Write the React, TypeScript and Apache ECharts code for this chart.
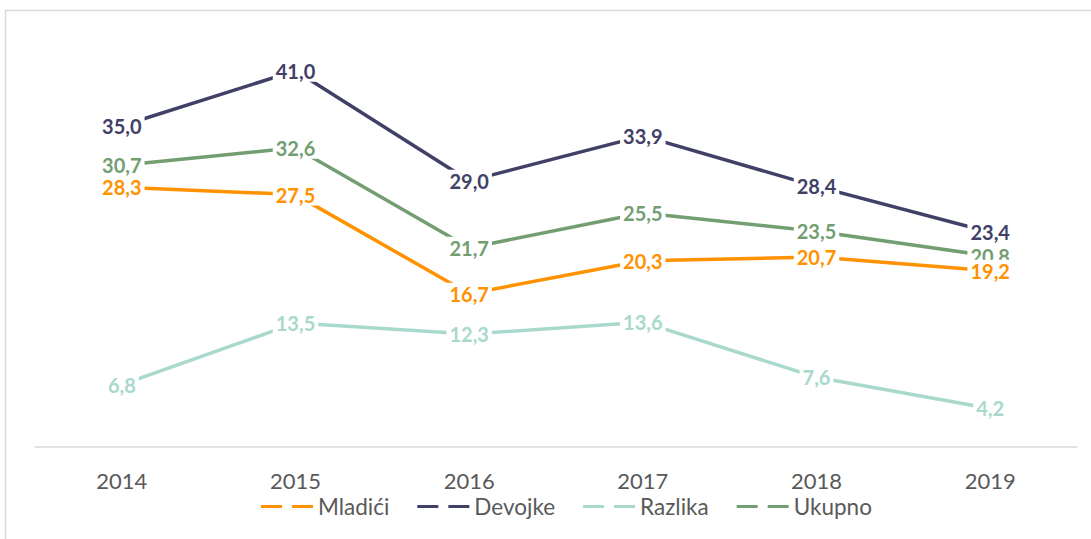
import React, { useEffect, useRef } from "react";
import * as echarts from "echarts";

const years = ["2014", "2015", "2016", "2017", "2018", "2019"];
const mladici = [28.3, 27.5, 16.7, 20.3, 20.7, 19.2];
const devojke = [35.0, 41.0, 29.0, 33.9, 28.4, 23.4];
const razlika = [6.8, 13.5, 12.3, 13.6, 7.6, 4.2];
const ukupno = [30.7, 32.6, 21.7, 25.5, 23.5, 20.8];

const seriesDefs = [
  { name: "Mladići", data: mladici, color: "#FF9200", z: 5 },
  { name: "Devojke", data: devojke, color: "#414167", z: 4 },
  { name: "Razlika", data: razlika, color: "#A9D9CD", z: 2 },
  { name: "Ukupno", data: ukupno, color: "#739E72", z: 3 },
];

const FONT = "Lato, 'Open Sans', sans-serif";

export default function App() {
  const ref = useRef<HTMLDivElement>(null);
  useEffect(() => {
    if (!ref.current) return;
    const chart = echarts.init(ref.current, undefined, { renderer: "svg" });
    chart.setOption({
      animation: false,
      backgroundColor: "#ffffff",
      textStyle: { fontFamily: FONT },
      graphic: [
        {
          type: "rect",
          shape: { x: 5.5, y: 10.5, width: 1200, height: 700 },
          style: { fill: "none", stroke: "#D9D9D9", lineWidth: 1.5 },
          silent: true,
          z: -10,
        },
      ],
      grid: { left: 35, right: 14, top: 34, bottom: 92 },
      xAxis: {
        type: "category",
        data: years,
        boundaryGap: true,
        axisLine: { show: true, lineStyle: { color: "#D9D9D9", width: 1.5 } },
        axisTick: { show: false },
        axisLabel: {
          color: "#595959",
          fontSize: 22,
          fontFamily: FONT,
          margin: 22,
        },
        splitLine: { show: false },
      },
      yAxis: {
        type: "value",
        min: 0,
        max: 45,
        show: false,
        splitLine: { show: false },
      },
      legend: {
        left: 256,
        top: 490,
        itemWidth: 52,
        itemHeight: 3,
        itemGap: 28,
        textStyle: { color: "#595959", fontSize: 22.5, fontFamily: FONT },
        data: seriesDefs.map((s) => ({
          name: s.name,
          icon: "path://M0,0H21V3H0Z M31,0H52V3H31Z",
        })),
      },
      series: seriesDefs.map((s) => ({
        name: s.name,
        type: "line",
        data: s.data,
        z: s.z,
        color: s.color,
        symbol: "circle",
        symbolSize: 1,
        showSymbol: true,
        lineStyle: { color: s.color, width: 3.5 },
        itemStyle: { color: s.color },
        label: {
          show: true,
          position: "inside",
          color: s.color,
          fontWeight: "bold",
          fontSize: 20,
          fontFamily: FONT,
          backgroundColor: "#ffffff",
          padding: [1, 3],
          formatter: (p: any) => Number(p.value).toFixed(1).replace(".", ","),
        },
        emphasis: { disabled: true },
      })),
    });
    return () => chart.dispose();
  }, []);
  return (
    <div
      ref={ref}
      style={{ position: "fixed", left: 0, top: 0, width: 1091, height: 539 }}
    />
  );
}
